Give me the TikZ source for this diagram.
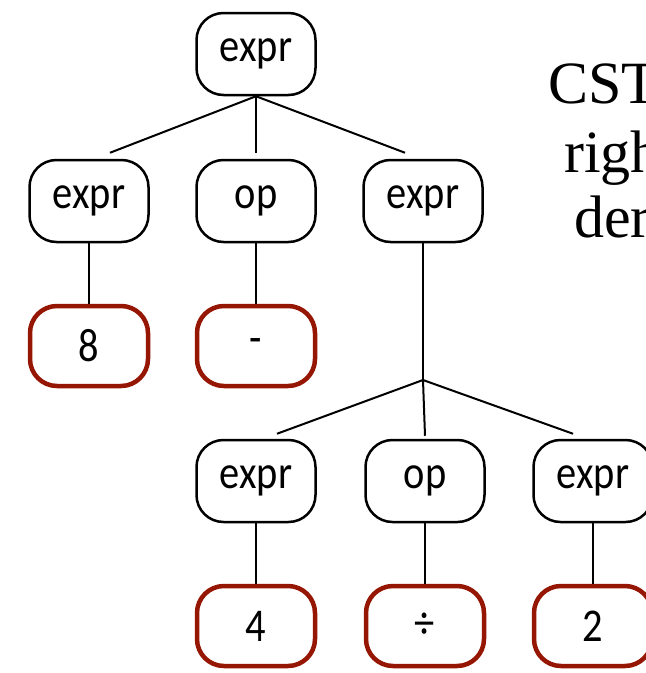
\documentclass[tikz,border=0pt]{standalone}
\usepackage{fontspec}
\setmainfont{Carlito}
\newfontfamily\titlefont{Liberation Serif}
\usepackage{tikz}
\usetikzlibrary{calc}
\definecolor{leafred}{RGB}{150,22,4}
\newcommand{\narrow}[1]{\scalebox{0.86}[1]{#1}}
\tikzset{
	inner/.style={draw=black, line width=2.5pt, rounded corners=27pt, minimum width=119pt, minimum height=82pt, inner sep=0pt, font=\fontsize{47}{56}\selectfont},
	leaf/.style={inner, draw=leafred, line width=4.5pt, minimum width=118pt, minimum height=80pt},
	edge/.style={line width=2pt, color=black}
}

\begin{document}
\begin{tikzpicture}[x=1pt, y=-1pt]
			%%%%% START %%%%%
			
			\clip (0, 0) rectangle (646, 673);
			\fill[white] (0, 0) rectangle (646, 673);
			
			\node[inner] (root) at (256, 54) {\narrow{expr}};
			
			\node[inner] (exprA) at (89, 201) {\narrow{expr}};
			\node[inner] (opA) at (256, 201) {\narrow{op}};
			\node[inner] (exprB) at (423, 201) {\narrow{expr}};
			
			\node[leaf] (eight) at (89, 346) {\narrow{8}};
			\node[leaf] (minus) at (256, 346) {\narrow{-}};
			
			\node[inner] (exprC) at (256, 481) {\narrow{expr}};
			\node[inner] (opB) at (425, 481) {\narrow{op}};
			\node[inner] (exprD) at (593, 481) {\narrow{expr}};
			
			\node[leaf] (four) at (256, 626) {\narrow{4}};
			\node[leaf] (divide) at (425, 626) {\narrow{÷}};
			\node[leaf] (two) at (593, 626) {\narrow{2}};
			
			\coordinate (fork) at (exprB.south |- 0, 380);
			
			\draw[edge] (root.south) -- ($(exprA.north)+(21, -6)$);
			\draw[edge] (root.south) -- ($(opA.north)+(0, -6)$);
			\draw[edge] (root.south) -- ($(exprB.north)+(-18, -6)$);
			
			\draw[edge] (exprA.south) -- (eight.north);
			\draw[edge] (opA.south) -- (minus.north);
			\draw[edge] (exprB.south) -- (fork);
			
			\draw[edge] (fork) -- ($(exprC.north)+(21, -5)$);
			\draw[edge] (fork) -- ($(opB.north)+(0, -3)$);
			\draw[edge] (fork) -- ($(exprD.north)+(-20, -5)$);
			
			\draw[edge] (exprC.south) -- (four.north);
			\draw[edge] (opB.south) -- (divide.north);
			\draw[edge] (exprD.south) -- (two.north);
			
			\node[anchor=base west, inner sep=0pt, font=\titlefont\fontsize{60}{72}\selectfont] (titleA) at (548, 103) {CST for};
			\node[anchor=base west, inner sep=0pt, font=\titlefont\fontsize{60}{72}\selectfont] (titleB) at (564, 172) {rightmost};
			\node[anchor=base west, inner sep=0pt, font=\titlefont\fontsize{60}{72}\selectfont] (titleC) at (574, 237) {derivation};
			
			%%%%% END %%%%%
\end{tikzpicture}
\end{document}
